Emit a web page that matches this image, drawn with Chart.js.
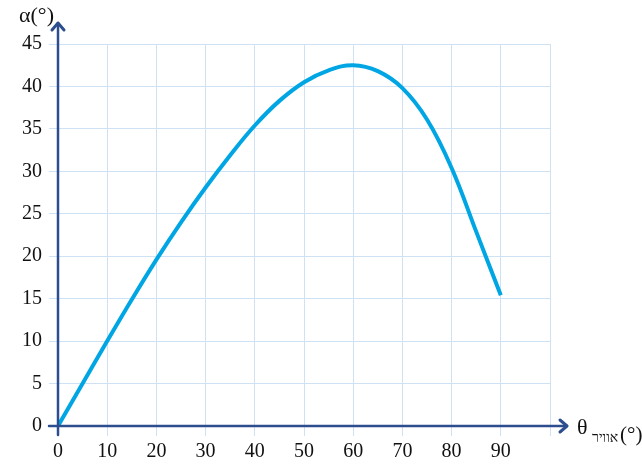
<!DOCTYPE html>
<html>
<head>
<meta charset="utf-8">
<script src="https://cdn.jsdelivr.net/npm/chart.js@4"></script>
<style>
  html, body { margin: 0; padding: 0; background: #fff; }
  #wrap { width: 642px; height: 467px; position: relative; }
</style>
</head>
<body>
<div id="wrap"><canvas id="chart"></canvas></div>
<script>
// values
const thetaAir = [0, 5, 10, 15, 20, 25, 30, 35, 40, 45, 50, 55, 60, 65, 70, 75, 80, 85, 90];
const alpha = [0, 5.0, 10.0, 14.9, 19.6, 24.0, 28.1, 31.9, 35.4, 38.3, 40.5, 41.9, 42.5, 41.8, 39.8, 36.1, 30.4, 22.9, 15.4];
const xTicks = [0, 10, 20, 30, 40, 50, 60, 70, 80, 90];
const yTicks = [0, 5, 10, 15, 20, 25, 30, 35, 40, 45];

const axisColor = '#2d4e8e';
const gridColor = '#cfe2f3';
const serif = '"Liberation Serif", "DejaVu Serif", serif';

// axis lines with arrow heads and the axis titles
const axesPlugin = {
  id: 'axes',
  afterDraw(chart) {
    const ctx = chart.ctx;
    const x = chart.scales.x, y = chart.scales.y;
    const x0 = x.getPixelForValue(0), y0 = y.getPixelForValue(0);
    const yTop = y.getPixelForValue(45) - 21;
    const xEnd = x.getPixelForValue(100) + 17;
    ctx.save();
    ctx.strokeStyle = axisColor;
    ctx.lineWidth = 2.5;
    ctx.lineCap = 'round';
    ctx.lineJoin = 'round';
    ctx.beginPath();
    ctx.moveTo(x0, y0 + 9); ctx.lineTo(x0, yTop);
    ctx.moveTo(x0 - 9, y0); ctx.lineTo(xEnd, y0);
    ctx.stroke();
    ctx.lineWidth = 3;
    ctx.beginPath();
    ctx.moveTo(x0 - 6, yTop + 7); ctx.lineTo(x0, yTop); ctx.lineTo(x0 + 6, yTop + 7);
    ctx.moveTo(xEnd - 7, y0 - 6); ctx.lineTo(xEnd, y0); ctx.lineTo(xEnd - 7, y0 + 6);
    ctx.stroke();

    ctx.fillStyle = '#111';
    ctx.textBaseline = 'alphabetic';
    ctx.textAlign = 'left';
    ctx.font = '22px ' + serif;
    ctx.fillText('α(°)', 19, 22);

    ctx.fillText('θ', 577, 434);
    ctx.font = '14px ' + serif;
    ctx.fillText('אוויר', 592, 442);
    ctx.font = '21px ' + serif;
    ctx.fillText('(°)', 620, 441);
    ctx.restore();
  }
};

new Chart(document.getElementById('chart'), {
  type: 'line',
  data: {
    datasets: [{
      data: thetaAir.map((t, i) => ({ x: t, y: alpha[i] })),
      borderColor: '#00a6e4',
      borderWidth: 4,
      pointRadius: 0,
      tension: 0.4,
      fill: false
    }]
  },
  options: {
    responsive: true,
    maintainAspectRatio: false,
    animation: false,
    layout: { padding: { top: 44, right: 92, left: 0, bottom: 0 } },
    plugins: { legend: { display: false }, tooltip: { enabled: false } },
    scales: {
      x: {
        type: 'linear',
        min: 0,
        max: 100,
        border: { display: false },
        grid: { color: gridColor, tickColor: gridColor, tickLength: 10, lineWidth: 1 },
        afterBuildTicks(scale) { scale.ticks = xTicks.concat([100]).map(v => ({ value: v })); },
        afterFit(scale) { scale.height = 41; },
        ticks: {
          padding: 4,
          color: '#111',
          font: { family: serif, size: 20 },
          maxRotation: 0,
          callback: v => (xTicks.includes(v) ? String(v) : '')
        }
      },
      y: {
        type: 'linear',
        min: 0,
        max: 45,
        border: { display: false },
        grid: { color: gridColor, tickColor: gridColor, tickLength: 9, lineWidth: 1 },
        afterBuildTicks(scale) { scale.ticks = yTicks.map(v => ({ value: v })); },
        afterFit(scale) { scale.width = 58; },
        ticks: {
          padding: 7,
          color: '#111',
          font: { family: serif, size: 20 },
          callback: v => String(v)
        }
      }
    }
  },
  plugins: [axesPlugin]
});
</script>
</body>
</html>
